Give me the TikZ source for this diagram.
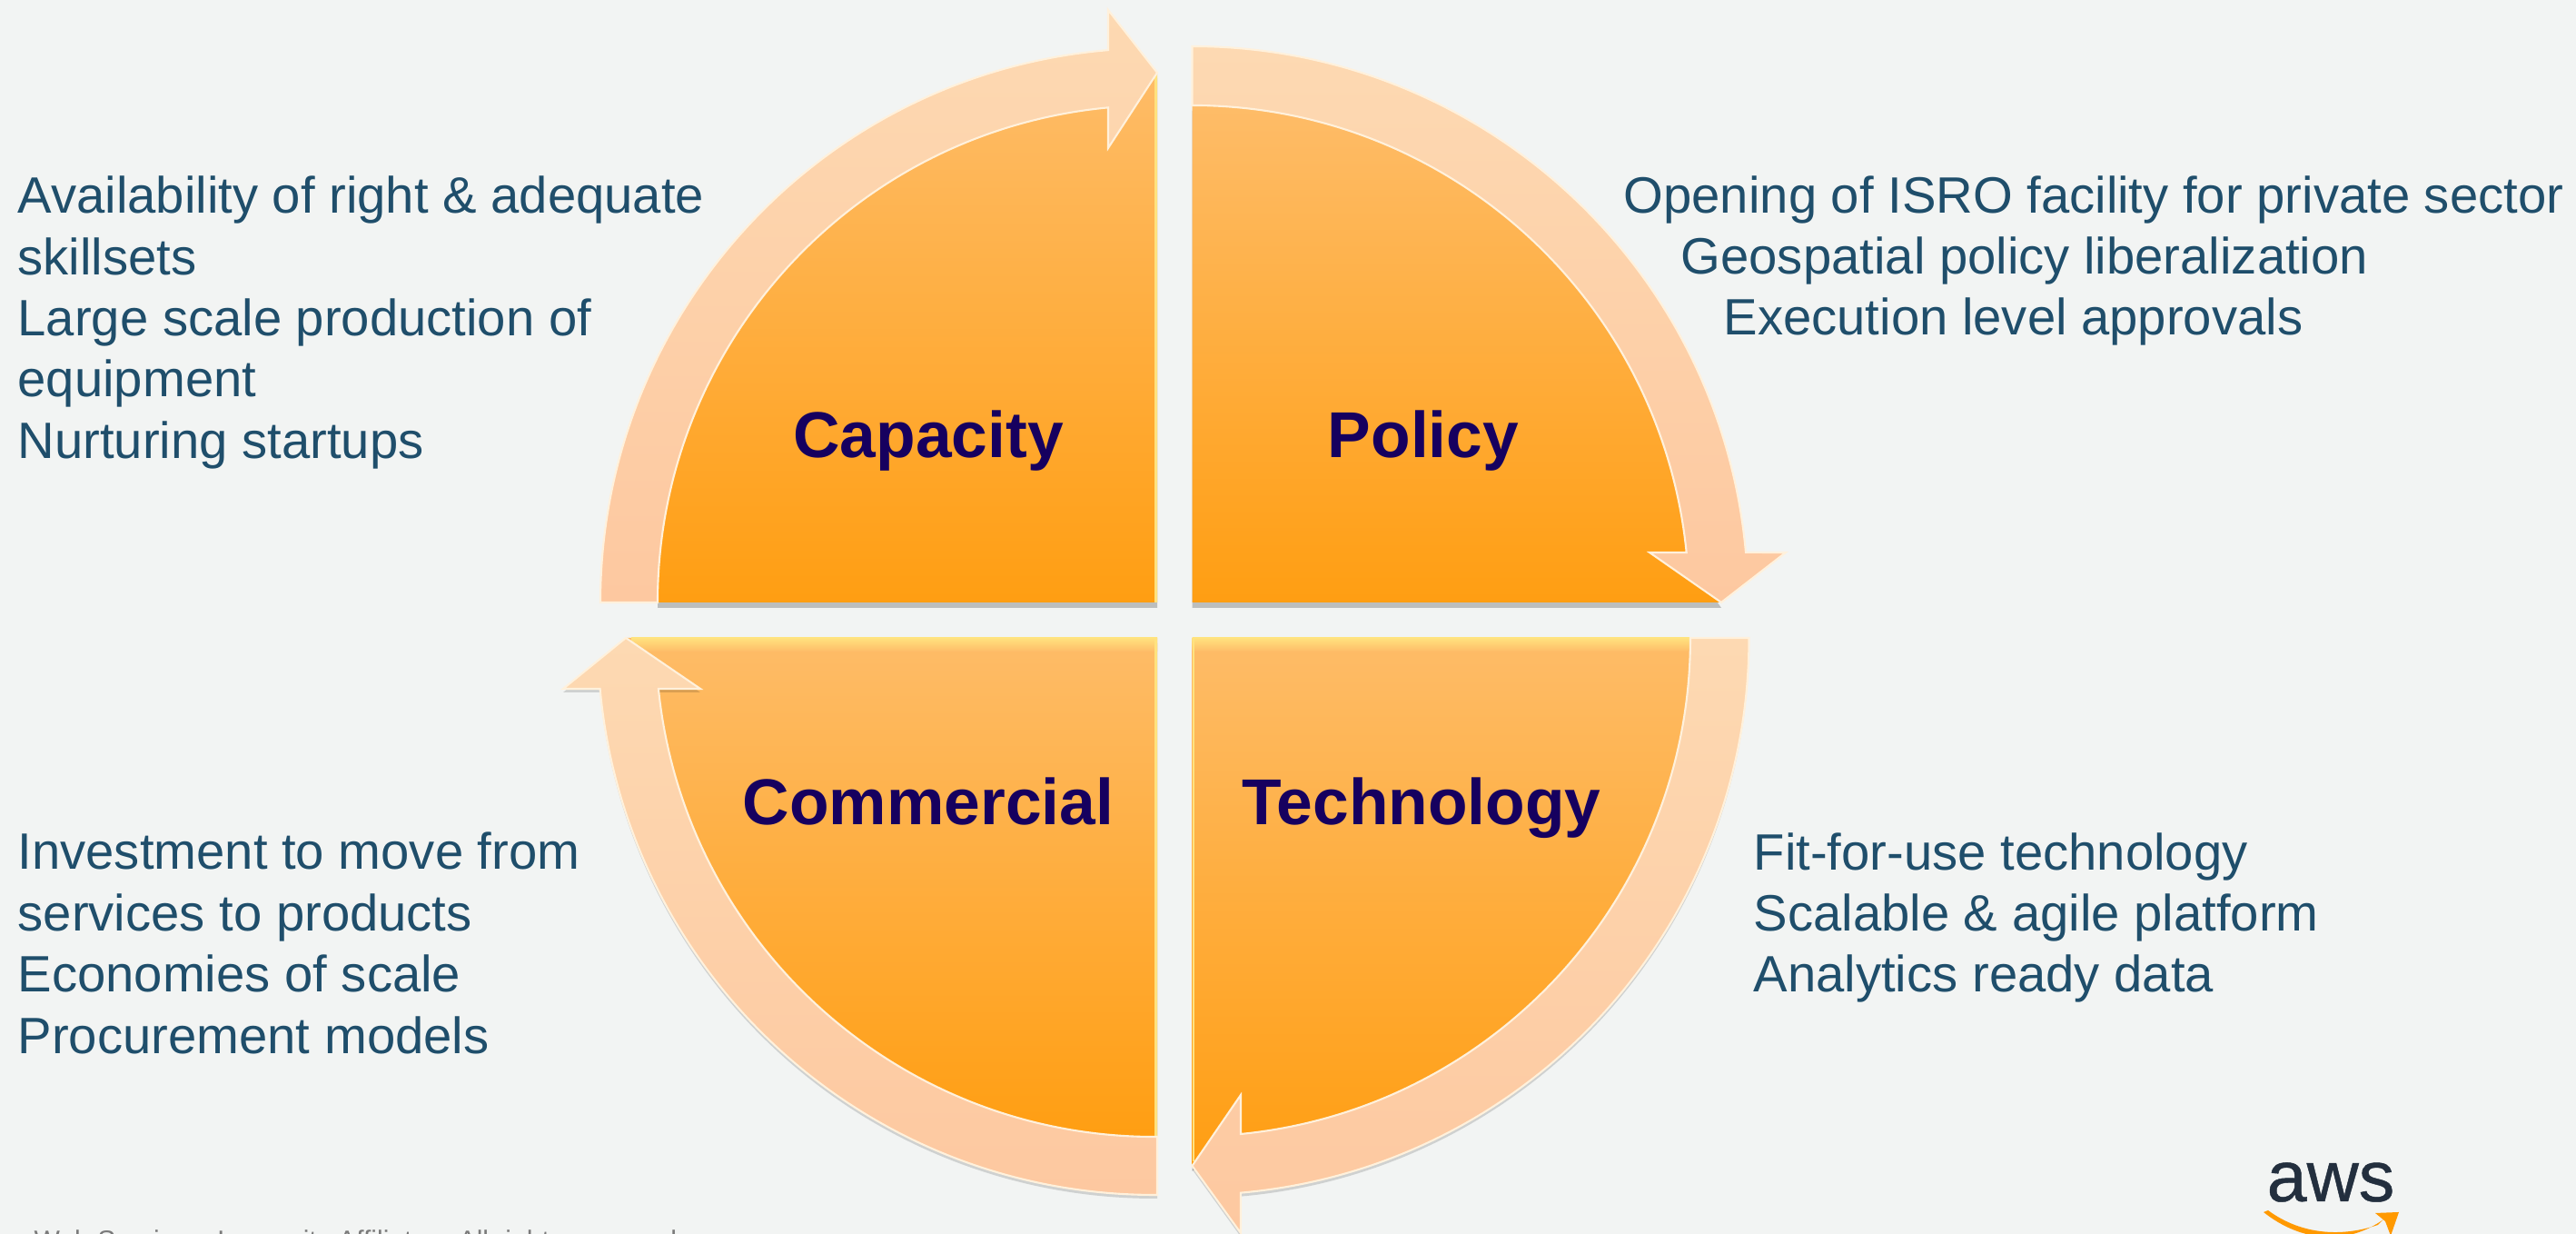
\documentclass[tikz,border=0pt]{standalone}
\usepackage{fontspec}
\setmainfont{Liberation Sans}
\newfontfamily\awsfont[FakeBold=0.6]{Liberation Sans}
\usetikzlibrary{shadows}
\definecolor{pagebg}{HTML}{F2F4F3}
\definecolor{bodytext}{HTML}{1F4E6B}
\definecolor{titletext}{HTML}{16005F}
\definecolor{footgray}{HTML}{7A7A7A}
\definecolor{awsdark}{HTML}{232F3E}
\definecolor{awsorange}{HTML}{FF9900}
\definecolor{orangetop}{HTML}{FEBC68}
\definecolor{orangelow}{HTML}{FF9E12}
\definecolor{ringtop}{HTML}{FDD9B2}
\definecolor{ringlow}{HTML}{FDC8A0}
\definecolor{ringline}{HTML}{FFF1DC}
\definecolor{stripyellow}{HTML}{FFE27E}
\tikzset{
  wedge/.style={top color=orangetop,bottom color=orangelow,draw=none,
    drop shadow={shadow xshift=0cm,shadow yshift=-0.06cm,opacity=0.22,fill=black}},
  ring/.style={top color=ringtop,bottom color=ringlow,draw=ringline,line width=0.6pt},
  ringfall/.style={ring,drop shadow={shadow xshift=0cm,shadow yshift=-0.04cm,opacity=0.14,fill=black}},
  strip/.style={top color=stripyellow,bottom color=orangetop,draw=none},
  edgeline/.style={fill=stripyellow,draw=none},
  bodylabel/.style={text=bodytext,font=\fontsize{16}{19.2}\selectfont,align=left,inner sep=0pt,anchor=west},
  titlelabel/.style={text=titletext,font=\fontsize{20.3}{24}\selectfont\bfseries,inner sep=0pt,anchor=base},
}
\begin{document}
\begin{tikzpicture}
 \useasboundingbox (0,0) rectangle (28.36,13.58);
 \fill[pagebg] (0,0) rectangle (28.36,13.58);
 % capacity
 \path[wedge](12.74,6.95)--(7.24,6.95) arc[start angle=180,end angle=95.35,radius=5.47]--(12.74,12.78)--cycle;
 \fill[edgeline](12.71,6.95) rectangle (12.74,12.78);
 \path[ring](6.61,6.95) arc[start angle=180,end angle=94.8,radius=6.10]--(12.20,13.47)--(12.74,12.78)--(12.20,11.95)--(12.20,12.396) arc[start angle=95.35,end angle=180,radius=5.47]--cycle;
 % policy
 \path[wedge](13.125,6.95)--(13.125,12.42) arc[start angle=90,end angle=5.77,radius=5.47]--(18.95,6.95)--cycle;
 \path[ring](13.125,13.07) arc[start angle=90,end angle=5.16,radius=6.12]--(19.66,7.50)--(18.95,6.95)--(18.16,7.50)--(18.567,7.50) arc[start angle=5.77,end angle=90,radius=5.47]--cycle;
 % commercial
 \path[wedge](12.74,6.56)--(6.89,6.56)--(7.249,6.00) arc[start angle=185.85,end angle=270,radius=5.49]--(12.74,1.07)--cycle;
 \path[strip](6.95,6.41) rectangle (12.74,6.56);
 \fill[edgeline](12.71,1.07) rectangle (12.74,6.56);
 \path[ringfall](12.74,0.43)--(12.71,0.43) arc[start angle=270,end angle=185.24,radius=6.13]--(6.20,6.00)--(6.89,6.56)--(7.71,6.00)--(7.249,6.00) arc[start angle=185.85,end angle=270,radius=5.49]--(12.74,1.07)--cycle;
 % technology
 \path[wedge](13.125,6.56)--(18.61,6.56) arc[start angle=0,end angle=-84.4,radius=5.485]--(13.125,0.75)--cycle;
 \path[strip](13.125,6.41) rectangle (18.61,6.56);
 \fill[edgeline](13.125,0.80) rectangle (13.15,6.56);
 \path[ringfall](19.255,6.56) arc[start angle=0,end angle=-85,radius=6.13]--(13.66,0.01)--(13.125,0.75)--(13.66,1.53)--(13.66,1.10) arc[start angle=-84.4,end angle=0,radius=5.485]--cycle;
 % titles
 \node[titlelabel] (capacity) at (10.22,8.54) {Capacity};
 \node[titlelabel] (policy) at (15.67,8.54) {Policy};
 \node[titlelabel] (commercial) at (10.22,4.50) {Commercial};
 \node[titlelabel] (technology) at (15.65,4.50) {Technology};
 % side texts
 \node[bodylabel] (capacitytext) at (0.19,10.03) {Availability of right \& adequate\\skillsets\\Large scale production of\\equipment\\Nurturing startups};
 \node[bodylabel] (policytext) at (17.87,10.71) {Opening of ISRO facility for private sector\\\hspace*{0.63cm}Geospatial policy liberalization\\\hspace*{1.10cm}Execution level approvals};
 \node[bodylabel] (commercialtext) at (0.19,3.20) {Investment to move from\\services to products\\Economies of scale\\Procurement models};
 \node[bodylabel] (technologytext) at (19.30,3.48) {Fit-for-use technology\\Scalable \& agile platform\\Analytics ready data};
 % footer and logo
 \node[text=footgray,font=\fontsize{8.55}{10}\selectfont,inner sep=0pt,anchor=north west] (footer) at (0.37,0.05) {Web Services, Inc. or its Affiliates. All rights reserved};
 \node[text=awsdark,font=\awsfont\fontsize{22.5}{24}\selectfont,inner sep=0pt,anchor=base] (aws) at (25.66,0.36) {aws};
 \fill[awsorange](24.92,0.24) .. controls (25.35,-0.10) and (25.85,-0.12) .. (26.24,0.16)--(26.18,0.10) .. controls (25.80,-0.03) and (25.35,-0.02) .. (24.97,0.26)--cycle;
 \fill[awsorange](26.15,0.23)--(26.41,0.24)--(26.32,-0.02)--(26.26,0.14)--cycle;
\end{tikzpicture}
\end{document}
